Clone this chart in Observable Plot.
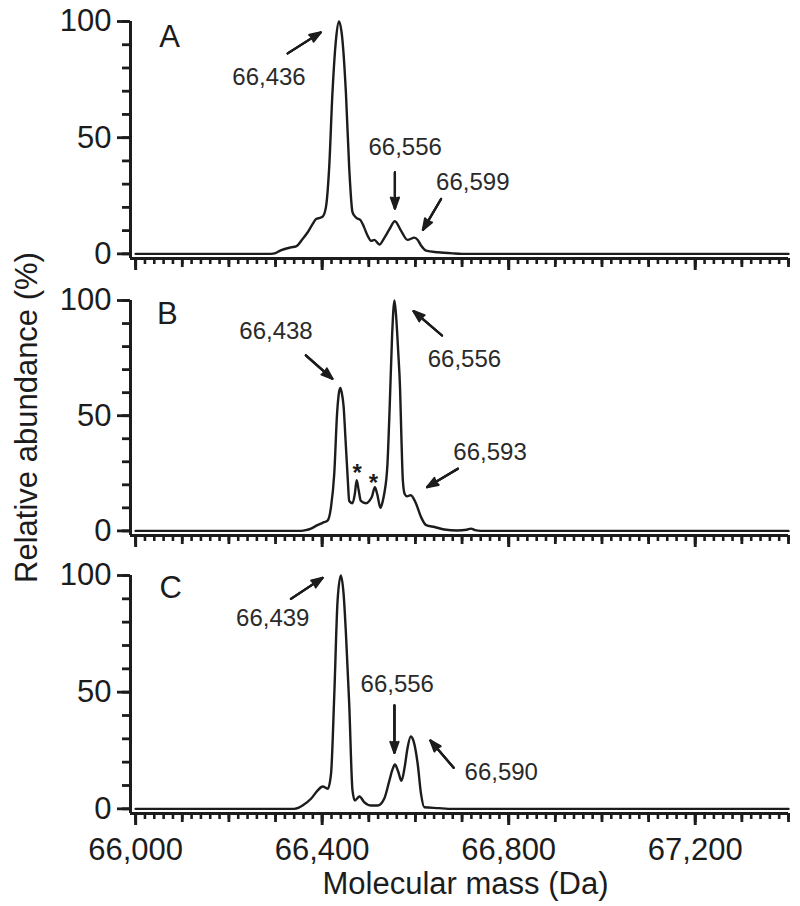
<!DOCTYPE html>
<html><head><meta charset="utf-8">
<script src="https://cdn.jsdelivr.net/npm/d3@7"></script>
<script src="https://cdn.jsdelivr.net/npm/@observablehq/plot@0.6"></script>
<style>
html,body{margin:0;padding:0;background:#fff;}
#chart{position:relative;width:800px;height:906px;overflow:hidden;background:#fff;}
#chart svg{position:absolute;left:0;overflow:visible;}
</style></head><body><div id="chart"></div>
<script>
// ---- data ----
const massA  = [66000,66290,66300,66311,66333,66344,66358,66369,66380,66387,66395,66401,66408,66415,66422,66430,66436,66443,66451,66458,66465,66472,66483,66490,66497,66505,66512,66523,66533,66544,66556,66569,66583,66598,66605,66612,66623,66648,66680,66700,67400];
const abundA = [0,0,0.3,1.5,2.8,3.2,6.4,9.3,13,15,15.5,16,20,37,69,93,100,93,69,37,18,15.7,14.3,11.4,8,5.6,6,4,6.8,10.5,14,10,6,7,6,3.6,1.4,0.7,0.2,0,0];

const massB  = [66000,66355,66365,66376,66390,66401,66412,66419,66426,66432,66436,66439,66442,66446,66450,66455,66458,66465,66470,66474,66478,66483,66494,66501,66507,66513,66518,66525,66530,66533,66540,66545,66550,66555,66559,66563,66567,66570,66573,66577,66582,66590,66601,66612,66623,66641,66662,66690,66710,66719,66728,66740,67400];
const abundB = [0,0,0.3,1,2.5,3.5,4.6,10.4,25,51,60,62,60,54,40,22,13,12,16,22,18,13,12,13,15,19,16,10,13,16,29,55,85,100,92,78,62,40,22,16,15,15.5,12,6,2.5,1.7,0.6,0.2,0.5,1,0.3,0,0];

const massC  = [66000,66340,66350,66358,66376,66390,66401,66412,66419,66426,66433,66440,66446,66451,66458,66465,66470,66480,66490,66505,66519,66533,66544,66551,66556,66563,66570,66577,66583,66590,66596,66605,66612,66619,66650,66670,67400];
const abundC = [0,0,0.5,1.4,4.3,7.8,9.6,8.6,15,49,89,100,92,75,45,8,3.6,5.3,2.9,1.4,1.4,4.3,12,17,19,16,12,18,26,31,29,19,6.4,0.7,0.3,0,0];

const panelLetters = ["A", "B", "C"];
const xTicksLabeled = [66000, 66400, 66800, 67200];
const xTicksMid = d3.range(66000, 67401, 100);
const xTicksMinor = d3.range(66000, 67401, 20);
const yTicksMajor = [0, 50, 100];
const yTicksMinor = d3.range(0, 101, 10);

// peak annotations: label text, label position, arrow tail -> tip (data units)
const labelTextA = ["66,436", "66,556", "66,599"];
const labelXA = [66286, 66578, 66723];
const labelYA = [75.8, 45.9, 31];
const arrowA = [[66326, 86.3, 66397, 95.3], [66556, 35.1, 66556, 19.5], [66655, 23.6, 66616, 10.3]];

const labelTextB = ["66,438", "66,556", "66,593"];
const labelXB = [66301, 66705, 66760];
const labelYB = [86.6, 74.6, 34.2];
const arrowB = [[66365, 76.2, 66422, 66], [66657, 84.8, 66596, 95.4], [66691, 27, 66625, 19]];
const starXB = [66475, 66510];
const starYB = [27.7, 23.4];

const labelTextC = ["66,439", "66,556", "66,590"];
const labelXC = [66294, 66561, 66784];
const labelYC = [81.6, 53.2, 15.8];
const arrowC = [[66333, 90, 66401, 99], [66555, 44.3, 66555, 24], [66682, 17.6, 66632, 29.3]];

const letterX = [66073, 66068, 66075];
const letterY = [93.4, 93.9, 94.5];

// ---- drawing ----
const ink = "#1c1c1c";
const font = "'Liberation Sans', Arial, Helvetica, sans-serif";
const xDomain = [65989, 67400];
const yDomain = [-2, 100];

function panel(cfg) {
  const pts = cfg.mass.map((m, i) => ({m, v: cfg.abund[i]}));
  const labs = cfg.labelText.map((t, i) => ({t, x: cfg.labelX[i], y: cfg.labelY[i]}));
  const arr = cfg.arrows.map(a => ({x1: a[0], y1: a[1], x2: a[2], y2: a[3]}));
  const marks = [
    Plot.ruleX([xDomain[0]], {stroke: ink, strokeWidth: 3}),
    Plot.ruleY([yDomain[0]], {stroke: ink, strokeWidth: 3}),
    Plot.axisY({ticks: yTicksMinor, tickSize: 8, tickFormat: () => "", stroke: ink, strokeWidth: 2.8, label: null}),
    Plot.axisY({ticks: yTicksMajor, tickSize: 13, tickPadding: 6, fontSize: 31, fill: ink, stroke: ink, strokeWidth: 2.8, label: null}),
    Plot.axisX({ticks: xTicksMinor, tickSize: 6, tickFormat: () => "", stroke: ink, strokeWidth: 2.6, label: null}),
    Plot.axisX({ticks: xTicksMid, tickSize: 9, tickFormat: () => "", stroke: ink, strokeWidth: 2.8, label: null}),
    Plot.axisX({ticks: xTicksLabeled, tickSize: 12, tickPadding: 12, fontSize: 31, fill: ink, stroke: ink, strokeWidth: 3,
      tickFormat: cfg.showX ? d3.format(",") : () => "", label: null}),
    Plot.line(pts, {x: "m", y: "v", curve: "monotone-x", stroke: ink, strokeWidth: 2.4}),
    Plot.text([cfg.letter], {x: cfg.letterX, y: cfg.letterY, fontSize: 31, fill: ink, textAnchor: "middle", lineAnchor: "middle"}),
    Plot.text(labs, {x: "x", y: "y", text: "t", fontSize: 24, fill: "#2a2a2a", textAnchor: "middle", lineAnchor: "middle"}),
    Plot.arrow(arr, {x1: "x1", y1: "y1", x2: "x2", y2: "y2", stroke: ink, strokeWidth: 2.2, headLength: 8, headAngle: 40}),
    Plot.arrow(arr, {x1: "x1", y1: "y1", x2: "x2", y2: "y2", stroke: ink, strokeWidth: 2.2, headLength: 7.5, headAngle: 24}),
    Plot.arrow(arr, {x1: "x1", y1: "y1", x2: "x2", y2: "y2", stroke: ink, strokeWidth: 2.2, headLength: 7, headAngle: 10})
  ];
  if (cfg.starX) {
    const stars = cfg.starX.map((x, i) => ({x, y: cfg.starY[i]}));
    marks.push(Plot.text(stars, {x: "x", y: "y", text: () => "*", fontSize: 24, fontWeight: "bold", fill: ink, textAnchor: "middle", lineAnchor: "middle", dy: 6}));
  }
  if (cfg.showX) {
    marks.push(Plot.text(["Molecular mass (Da)"], {frameAnchor: "bottom", dy: 71, dx: 6, fontSize: 31, fill: ink, textAnchor: "middle", lineAnchor: "middle"}));
  }
  const svg = Plot.plot({
    width: 800,
    height: cfg.mt + cfg.frameH + cfg.mb,
    marginTop: cfg.mt, marginBottom: cfg.mb, marginLeft: 130, marginRight: 12,
    style: {fontFamily: font, background: "transparent", overflow: "visible"},
    x: {domain: xDomain, label: null},
    y: {domain: yDomain, label: null},
    marks
  });
  svg.style.top = cfg.top + "px";
  return svg;
}

const chart = document.getElementById("chart");
chart.appendChild(panel({mass: massA, abund: abundA, letter: panelLetters[0], letterX: letterX[0], letterY: letterY[0],
  labelText: labelTextA, labelX: labelXA, labelY: labelYA, arrows: arrowA, top: 0, mt: 21, frameH: 237, mb: 21, showX: false}));
chart.appendChild(panel({mass: massB, abund: abundB, letter: panelLetters[1], letterX: letterX[1], letterY: letterY[1],
  labelText: labelTextB, labelX: labelXB, labelY: labelYB, arrows: arrowB, starX: starXB, starY: starYB,
  top: 279, mt: 21, frameH: 235, mb: 23, showX: false}));
chart.appendChild(panel({mass: massC, abund: abundC, letter: panelLetters[2], letterX: letterX[2], letterY: letterY[2],
  labelText: labelTextC, labelX: labelXC, labelY: labelYC, arrows: arrowC, top: 554, mt: 21, frameH: 238, mb: 93, showX: true}));

// shared y-axis title
const overlay = d3.create("svg").attr("width", 800).attr("height", 906).style("top", "0px").style("pointer-events", "none");
overlay.append("text")
  .attr("transform", "translate(37,417.5) rotate(-90)")
  .attr("text-anchor", "middle")
  .attr("font-family", font)
  .attr("font-size", 31)
  .attr("fill", ink)
  .text("Relative abundance (%)");
chart.appendChild(overlay.node());
</script>
</body></html>
